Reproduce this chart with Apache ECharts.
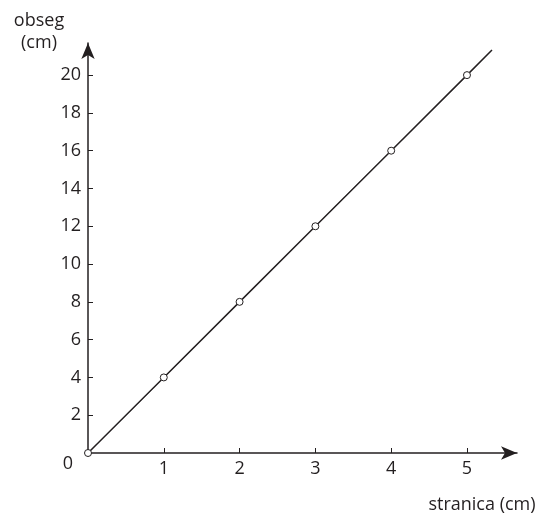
<!DOCTYPE html>
<html>
<head>
<meta charset="utf-8">
<script src="https://cdn.jsdelivr.net/npm/echarts@6/dist/echarts.min.js"></script>
<style>
  html, body { margin: 0; padding: 0; background: #fff; }
  #main { width: 546px; height: 514px; }
</style>
</head>
<body>
<div id="main"></div>
<script>
// side length (cm) and perimeter (cm)
const sides = [0, 1, 2, 3, 4, 5];
const perimeters = [0, 4, 8, 12, 16, 20];
// the drawn line runs a bit past the last point
const lineEnd = [5.33, 21.33];
const xTicks = [1, 2, 3, 4, 5];
const yTicks = [2, 4, 6, 8, 10, 12, 14, 16, 18, 20];

const ink = '#231f20';
const font = '"Open Sans", "Noto Sans", sans-serif';
const fs = 18;

const pointData = sides.map((s, i) => [s, perimeters[i]]);
const lineData = pointData.concat([{ value: lineEnd, symbol: 'none' }]);

const chart = echarts.init(document.getElementById('main'));

function label(text, x, y) {
  return {
    type: 'text', x: x, y: y,
    style: { text: text, fill: ink, font: fs + 'px ' + font, textAlign: 'center', textVerticalAlign: 'middle' }
  };
}

const option = {
  animation: false,
  grid: { left: 88, top: 43, right: 29, bottom: 61, containLabel: false },
  xAxis: {
    type: 'value',
    min: 0,
    max: 5.66,
    axisLine: {
      onZero: true,
      symbol: ['none', 'arrow'],
      symbolSize: [10, 16],
      lineStyle: { color: ink, width: 1.5 }
    },
    axisTick: { show: true, inside: true, length: 5, customValues: xTicks, lineStyle: { color: ink, width: 1 } },
    axisLabel: { customValues: xTicks, color: ink, fontSize: fs, fontFamily: font, margin: 7 },
    splitLine: { show: false }
  },
  yAxis: {
    type: 'value',
    min: 0,
    max: 21.7,
    axisLine: {
      onZero: true,
      symbol: ['none', 'arrow'],
      symbolSize: [10, 16],
      lineStyle: { color: ink, width: 1.5 }
    },
    axisTick: { show: true, inside: true, length: 5, customValues: yTicks, lineStyle: { color: ink, width: 1 } },
    axisLabel: { customValues: yTicks, color: ink, fontSize: fs, fontFamily: font, margin: 7 },
    splitLine: { show: false }
  },
  graphic: [
    label('obseg', 39, 21),
    label('(cm)', 39, 43),
    label('0', 68, 464),
    label('stranica (cm)', 482, 505)
  ],
  series: [
    {
      type: 'line',
      data: lineData,
      symbol: 'circle',
      symbolSize: 7,
      showAllSymbol: true,
      lineStyle: { color: ink, width: 1.5 },
      itemStyle: { color: '#fff', borderColor: ink, borderWidth: 1 },
      z: 5
    }
  ]
};

chart.setOption(option);
</script>
</body>
</html>
